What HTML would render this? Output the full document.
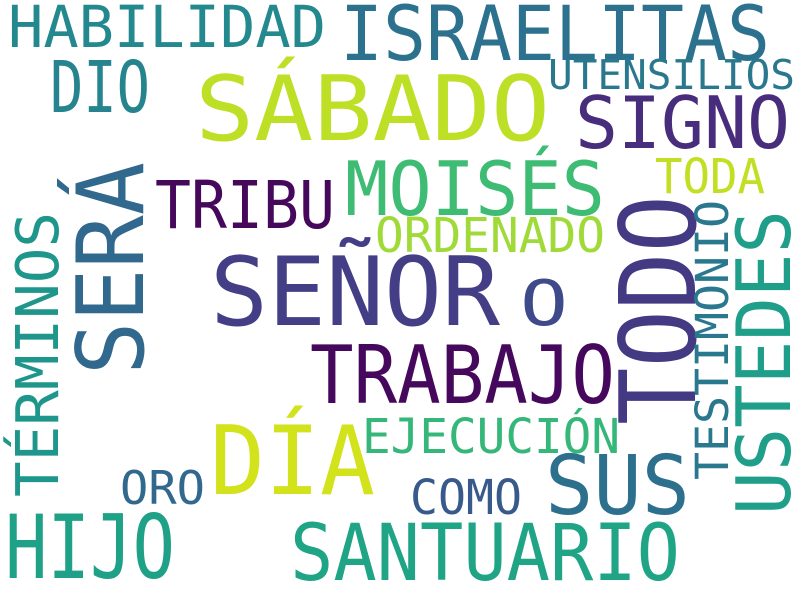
<!DOCTYPE html>
<html><head><meta charset="utf-8"><style>
html,body{margin:0;padding:0;background:#fff;}
svg{display:block;}
text{font-family:"DejaVu Sans Mono","Liberation Mono",monospace;}
</style></head><body>
<svg width="800" height="600">
<rect width="800" height="600" fill="#fff"/>
<text x="8" y="47" font-size="58" fill="#23898e" textLength="318" lengthAdjust="spacingAndGlyphs">HABILIDAD</text>
<text x="340" y="60" font-size="76" fill="#2c728e" textLength="430" lengthAdjust="spacingAndGlyphs">ISRAELITAS</text>
<text x="50" y="112" font-size="71" fill="#25848e" textLength="100" lengthAdjust="spacingAndGlyphs">DIO</text>
<text x="195" y="140" font-size="90" fill="#bddf26" textLength="355" lengthAdjust="spacingAndGlyphs">SÁBADO</text>
<text x="548" y="89" font-size="41" fill="#2a788e" textLength="247" lengthAdjust="spacingAndGlyphs">UTENSILIOS</text>
<text x="575" y="148" font-size="72" fill="#472d7b" textLength="215" lengthAdjust="spacingAndGlyphs">SIGNO</text>
<text x="0" y="0" font-size="93" fill="#31688e" textLength="213" lengthAdjust="spacingAndGlyphs" transform="translate(143,375) rotate(-90)">SERÁ</text>
<text x="155" y="228" font-size="66" fill="#45085b" textLength="180" lengthAdjust="spacingAndGlyphs">TRIBU</text>
<text x="345" y="215" font-size="75" fill="#3fbc73" textLength="260" lengthAdjust="spacingAndGlyphs">MOISÉS</text>
<text x="655" y="193" font-size="48" fill="#c2df23" textLength="110" lengthAdjust="spacingAndGlyphs">TODA</text>
<text x="0" y="0" font-size="105" fill="#443a83" textLength="230" lengthAdjust="spacingAndGlyphs" transform="translate(695,425) rotate(-90)">TODO</text>
<text x="0" y="0" font-size="45" fill="#2a788e" textLength="280" lengthAdjust="spacingAndGlyphs" transform="translate(728,480) rotate(-90)">TESTIMONIO</text>
<text x="0" y="0" font-size="75" fill="#1f9e89" textLength="305" lengthAdjust="spacingAndGlyphs" transform="translate(790,515) rotate(-90)">USTEDES</text>
<text x="375" y="252" font-size="48" fill="#a0da39" textLength="230" lengthAdjust="spacingAndGlyphs">ORDENADO</text>
<text x="0" y="0" font-size="59" fill="#1f968b" textLength="285" lengthAdjust="spacingAndGlyphs" transform="translate(58,497) rotate(-90)">TÉRMINOS</text>
<text x="210" y="325" font-size="95" fill="#433e85" textLength="290" lengthAdjust="spacingAndGlyphs">SEÑOR</text>
<text x="520" y="325" font-size="62" fill="#3e4a89" textLength="48" lengthAdjust="spacingAndGlyphs">O</text>
<text x="310" y="403" font-size="80" fill="#46085c" textLength="305" lengthAdjust="spacingAndGlyphs">TRABAJO</text>
<text x="210" y="494" font-size="95" fill="#d2e21b" textLength="165" lengthAdjust="spacingAndGlyphs">DÍA</text>
<text x="362" y="453" font-size="48" fill="#35b779" textLength="258" lengthAdjust="spacingAndGlyphs">EJECUCIÓN</text>
<text x="545" y="514" font-size="82" fill="#2d708e" textLength="145" lengthAdjust="spacingAndGlyphs">SUS</text>
<text x="120" y="504" font-size="46" fill="#31688e" textLength="85" lengthAdjust="spacingAndGlyphs">ORO</text>
<text x="410" y="514" font-size="48" fill="#38598c" textLength="112" lengthAdjust="spacingAndGlyphs">COMO</text>
<text x="5" y="578" font-size="88" fill="#1fa187" textLength="170" lengthAdjust="spacingAndGlyphs">HIJO</text>
<text x="290" y="580" font-size="78" fill="#20a486" textLength="390" lengthAdjust="spacingAndGlyphs">SANTUARIO</text>
</svg>
</body></html>
